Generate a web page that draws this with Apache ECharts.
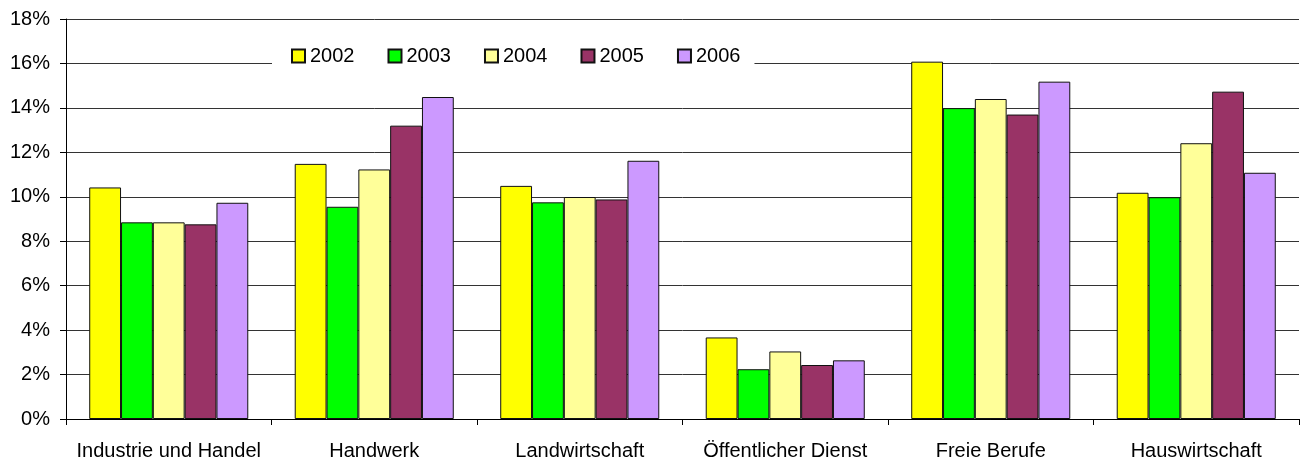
<!DOCTYPE html>
<html>
<head>
<meta charset="utf-8">
<script src="https://cdn.jsdelivr.net/npm/echarts@6/dist/echarts.min.js"></script>
<style>
html,body{margin:0;padding:0;background:#fff;}
#chart{width:1302px;height:461px;}
</style>
</head>
<body>
<div id="chart"></div>
<script>
const categories = ['Industrie und Handel', 'Handwerk', 'Landwirtschaft', 'Öffentlicher Dienst', 'Freie Berufe', 'Hauswirtschaft'];
const years = ['2002', '2003', '2004', '2005', '2006'];
const v2002 = [10.42, 11.48, 10.49, 3.67, 16.08, 10.18];
const v2003 = [8.85, 9.55, 9.75, 2.24, 13.99, 9.98];
const v2004 = [8.85, 11.23, 9.99, 3.04, 14.40, 12.41];
const v2005 = [8.76, 13.20, 9.88, 2.43, 13.70, 14.73];
const v2006 = [9.73, 14.49, 11.62, 2.64, 15.18, 11.08];
const yTicks = { min: 0, max: 18, interval: 2 };

const seriesValues = [v2002, v2003, v2004, v2005, v2006];
const colors = ['#FFFF00', '#00FF00', '#FFFF99', '#993366', '#CC99FF'];
const FONT = '"Liberation Sans", Arial, sans-serif';

const chart = echarts.init(document.getElementById('chart'), null, { renderer: 'canvas' });
chart.setOption({
  animation: false,
  backgroundColor: '#ffffff',
  textStyle: { fontFamily: FONT },
  legend: {
    data: years,
    left: 272,
    top: 40,
    padding: [6, 14, 6, 19],
    backgroundColor: '#ffffff',
    itemWidth: 13,
    itemHeight: 13,
    itemGap: 33,
    icon: 'rect',
    textStyle: { fontFamily: FONT, fontSize: 20, color: '#000' },
    z: 10
  },
  grid: { left: 66, right: 3, top: 19, bottom: 41, containLabel: false },
  xAxis: {
    type: 'category',
    data: categories,
    axisLine: { show: true, lineStyle: { color: '#000', width: 1 } },
    axisTick: { show: true, alignWithLabel: false, length: 6, lineStyle: { color: '#000' } },
    axisLabel: { color: '#000', fontFamily: FONT, fontSize: 20, margin: 22, interval: 0 },
    splitLine: { show: false }
  },
  yAxis: {
    type: 'value',
    min: yTicks.min,
    max: yTicks.max,
    interval: yTicks.interval,
    axisLine: { show: true, lineStyle: { color: '#000', width: 1 } },
    axisTick: { show: true, length: 6, lineStyle: { color: '#000' } },
    axisLabel: { color: '#000', fontFamily: FONT, fontSize: 20, margin: 16, formatter: '{value}%' },
    splitLine: { show: true, lineStyle: { color: '#333', width: 1 } }
  },
  series: years.map((y, i) => ({
    name: y,
    type: 'bar',
    data: seriesValues[i],
    barGap: '0%',
    barCategoryGap: '22.6%',
    itemStyle: { color: colors[i], borderColor: '#111', borderWidth: 1 }
  }))
});
</script>
</body>
</html>
